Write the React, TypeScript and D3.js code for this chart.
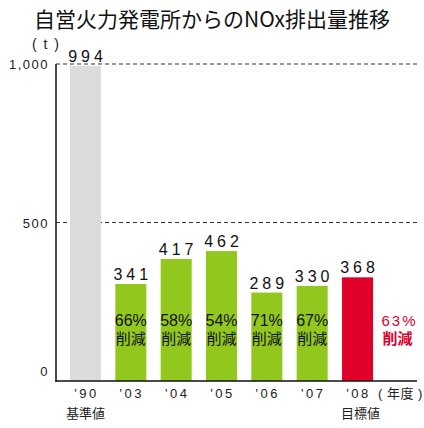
import React from 'react';
import * as d3 from 'd3';

// fiscal years and emissions (t)
const years = ["'90", "'03", "'04", "'05", "'06", "'07", "'08"];
const values = [994, 341, 417, 462, 289, 330, 368];
// bar heights as drawn in the original (not to scale except the base year)
const barHeights = [994, 306, 385, 410, 279, 300, 327];
const cuts = ['', '66%', '58%', '54%', '71%', '67%', ''];
const targetCut = '63%';
const yTicks = [0, 500, 1000];
const yTickLabels = ['0', '500', '1,000'];
const gridTicks = [500, 1000];

const W = 424;
const H = 428;
const GREEN = '#92c81e';
const RED = '#e0002a';
const GRAY = '#dcdcdc';
const FONT = "'Liberation Sans', 'Noto Sans CJK JP', sans-serif";
const JP = "'Noto Sans CJK JP', sans-serif";

const App = () => {
  const y = d3.scaleLinear().domain([0, 1000]).range([381, 64]);
  const x = d3.scaleLinear().domain([0, years.length - 1]).range([85.5, 357.5]);
  const bw = 31;
  const axisX = 56;
  const axisEnd = 417;

  const barColor = (i: number) => (i === 0 ? GRAY : i === years.length - 1 ? RED : GREEN);

  return (
    <svg width={W} height={H} style={{ position: 'absolute', left: 0, top: 0, background: '#fff' }} fontFamily={FONT}>
      <text x={212} y={27} textAnchor="middle" fontSize={21} fill="#111" fontFamily={JP}>
        自営火力発電所からのNOx排出量推移
      </text>

      <text x={32} y={49} fontSize={14} fill="#222" letterSpacing={1.5}>( t )</text>

      {/* gridlines */}
      {gridTicks.map(t => (
        <line key={t} x1={axisX} x2={axisEnd} y1={y(t)} y2={y(t)} stroke="#333" strokeWidth={1} strokeDasharray="4,3" />
      ))}

      {/* y tick labels */}
      {yTicks.map((t, i) => (
        <text key={t} x={49} y={t === 0 ? y(t) - 5 : y(t) + 5} textAnchor="end" fontSize={13} fill="#222" letterSpacing={1.5}>
          {yTickLabels[i]}
        </text>
      ))}

      {/* bars */}
      {barHeights.map((v, i) => (
        <rect key={years[i]} x={x(i) - bw / 2} y={y(v)} width={bw} height={y(0) - y(v)} fill={barColor(i)} />
      ))}

      {/* value labels */}
      {values.map((v, i) => (
        <text key={years[i]} x={x(i) + 2} y={y(barHeights[i]) - 4} textAnchor="middle" fontSize={16} fill="#111" letterSpacing={4}>
          {v}
        </text>
      ))}

      {/* reduction labels */}
      {cuts.map((c, i) =>
        c ? (
          <g key={years[i]}>
            <text x={x(i)} y={326} textAnchor="middle" fontSize={16} fill="#111">{c}</text>
            <text x={x(i)} y={344} textAnchor="middle" fontSize={15} fill="#111" fontFamily={JP}>削減</text>
          </g>
        ) : null
      )}
      <text x={x(6) + 42} y={326} textAnchor="middle" fontSize={15} fill={RED} letterSpacing={2}>{targetCut}</text>
      <text x={x(6) + 40} y={344} textAnchor="middle" fontSize={15} fill={RED} fontWeight="bold" fontFamily={JP}>削減</text>

      {/* axes */}
      <line x1={axisX} x2={axisX} y1={y(1000)} y2={y(0) + 1} stroke="#111" strokeWidth={1.5} />
      <line x1={axisX - 0.5} x2={axisEnd} y1={y(0)} y2={y(0)} stroke="#111" strokeWidth={1.5} />

      {/* x labels */}
      {years.map((yr, i) => (
        <text key={yr} x={x(i) + 1} y={398} textAnchor="middle" fontSize={13} fill="#222" letterSpacing={2.5}>
          {yr}
        </text>
      ))}
      <text x={378} y={398} fontSize={13} fill="#222" letterSpacing={0.5}>( 年度 )</text>
      <text x={x(0)} y={418} textAnchor="middle" fontSize={13} fill="#222" fontFamily={JP}>基準値</text>
      <text x={x(6) + 3} y={418} textAnchor="middle" fontSize={13} fill="#222" fontFamily={JP}>目標値</text>
    </svg>
  );
};

export default App;
